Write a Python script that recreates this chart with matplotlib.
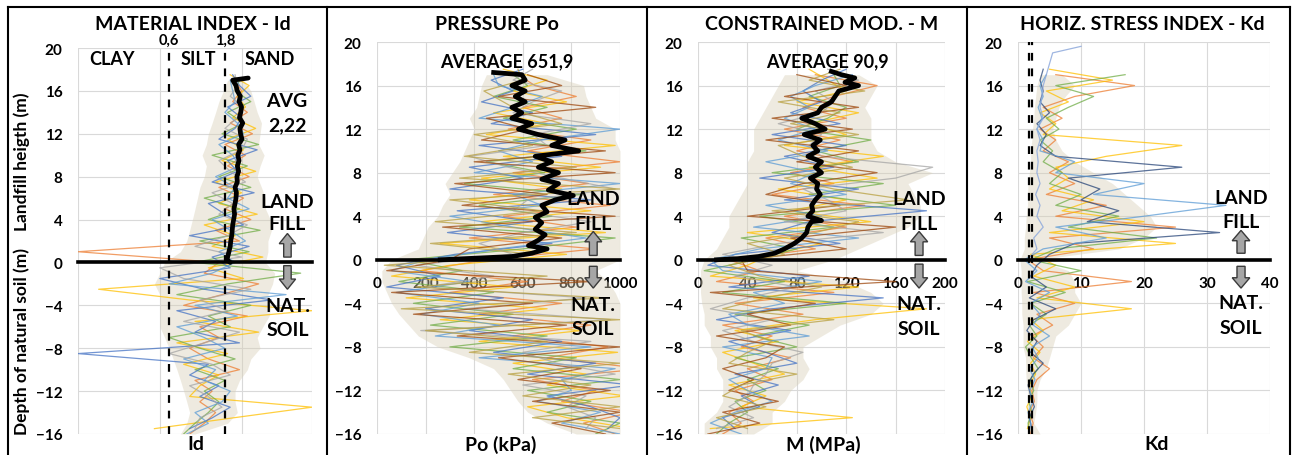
import matplotlib
matplotlib.use('Agg')
import matplotlib.pyplot as plt
from matplotlib.patches import FancyArrow
from matplotlib.lines import Line2D
from matplotlib.ticker import NullLocator

plt.rcParams['font.family'] = ['Lato', 'DejaVu Sans']
plt.rcParams['font.weight'] = 'bold'

# profondità comuni (m): griglia intera e griglia sfalsata di mezzo metro
depth_a = [-16, -15, -14, -13, -12, -11, -10, -9, -8, -7, -6, -5, -4, -3, -2, -1, 0,
           1, 2, 3, 4, 5, 6, 7, 8, 9, 10, 11, 12, 13, 14, 15, 16, 17]
depth_b = [-15.5, -14.5, -13.5, -12.5, -11.5, -10.5, -9.5, -8.5, -7.5, -6.5, -5.5, -4.5,
           -3.5, -2.5, -1.5, -0.5, 0.5, 1.5, 2.5, 3.5, 4.5, 5.5, 6.5, 7.5, 8.5, 9.5, 10.5,
           11.5, 12.5, 13.5, 14.5, 15.5, 16.5, 17.5]

# ---- Id (material index)
id_lo = [0.75, 0.85, 0.9, 0.85, 0.8, 0.75, 0.7, 0.65, 0.6, 0.55, 0.5, 0.5, 0.5, 0.5, 0.45, 0.5, 0.55,
         0.75, 0.85, 0.9, 0.95, 1.0, 1.05, 1.1, 1.2, 1.25, 1.15, 1.25, 1.3, 1.4, 1.5, 1.6, 1.75, 1.9]
id_hi = [1.0, 1.9, 2.3, 2.2, 2.2, 2.4, 2.8, 3.0, 3.6, 3.4, 3.8, 4.3, 4.5, 4.2, 4.6, 4.8, 4.0,
         4.2, 4.2, 4.5, 4.4, 4.0, 4.0, 3.7, 3.4, 3.6, 3.9, 3.5, 3.6, 3.7, 3.4, 3.2, 3.0, 2.6]
id_p1 = [0.9, 1.2, 1.5, 1.1, 1.4, 1.0, 2.4, 1.3, 0.9, 1.6, 1.1, 2.8, 0.8, 1.7, 3.5, 1.2, 1.6,
         0.1, 2.4, 1.5, 3.0, 1.8, 2.6, 1.6, 2.9, 1.9, 2.7, 1.8, 3.1, 2.0, 2.8, 2.1, 2.5, 2.2]
id_p2 = [0.45, 2.1, 10.0, 0.9, 1.1, 1.6, 0.8, 1.9, 0.7, 3.5, 1.0, 10.0, 0.9, 0.15, 2.6, 1.3, 3.8,
         1.4, 2.2, 1.2, 3.4, 1.6, 2.5, 1.5, 3.3, 1.7, 2.6, 1.9, 3.3, 2.1, 2.7, 2.3, 2.9, 2.0]
id_p3 = [0.8, 1.0, 1.3, 1.6, 1.2, 1.8, 1.0, 2.2, 1.1, 0.6, 2.0, 1.3, 3.0, 0.7, 1.9, 8.0, 1.0,
         2.9, 1.1, 3.6, 1.3, 2.4, 1.2, 3.0, 1.6, 2.8, 1.4, 3.5, 1.7, 2.6, 1.9, 3.0, 2.2, 2.4]
id_p4 = [0.9, 1.4, 2.0, 1.1, 1.6, 0.9, 1.3, 0.1, 2.4, 1.0, 1.5, 0.7, 4.5, 1.2, 0.5, 2.0, 1.4,
         2.9, 0.9, 2.6, 1.8, 1.3, 3.2, 1.4, 2.3, 1.9, 3.4, 1.6, 2.2, 2.5, 1.9, 3.0, 2.4, 2.1]
id_p5 = [0.85, 1.3, 1.0, 1.7, 2.0, 1.2, 1.5, 0.8, 1.8, 1.2, 0.7, 2.3, 1.0, 6.0, 0.6, 1.4, 2.2,
         1.6, 2.7, 2.0, 1.4, 2.9, 1.9, 2.2, 1.5, 2.4, 2.1, 1.6, 2.6, 2.3, 1.8, 2.2, 2.1, 2.0]
id_p6 = [1.0, 1.1, 1.7, 1.3, 0.9, 2.0, 1.4, 0.6, 1.2, 2.4, 0.8, 1.9, 1.1, 3.0, 0.8, 0.5, 2.5,
         1.0, 1.9, 2.8, 1.6, 2.1, 1.4, 2.7, 2.0, 1.6, 2.5, 2.8, 1.8, 2.3, 2.6, 2.0, 2.3, 2.2]
id_avg_depth = [0.0, 0.3, 0.5, 1, 1.5, 2, 2.5, 3, 3.5, 4, 4.5, 5, 5.5, 6, 6.5, 7, 7.5, 8, 8.5, 9,
                9.5, 10, 10.5, 11, 11.5, 12, 12.5, 13, 13.5, 14, 14.5, 15, 15.5, 16, 16.5, 17, 17.2]
id_avg = [2.0, 1.85, 1.9, 1.95, 2.0, 2.02, 2.06, 2.08, 2.1, 2.14, 2.18, 2.15, 2.2, 2.24, 2.26, 2.2,
          2.3, 2.28, 2.36, 2.3, 2.38, 2.32, 2.42, 2.36, 2.52, 2.45, 2.42, 2.56, 2.4, 2.46, 2.5,
          2.38, 2.44, 2.3, 2.24, 2.1, 2.85]
id_limits = [0.6, 1.8]

# ---- Po (kPa)
po_lo = [820, 700, 620, 580, 550, 520, 480, 380, 250, 170, 130, 90, 60, 40, 20, 20, 60,
         170, 190, 210, 250, 270, 300, 280, 310, 340, 360, 380, 400, 380, 410, 420, 430, 450]
po_hi = [1000, 1000, 1000, 1000, 1000, 1000, 1000, 1000, 1000, 1000, 1000, 1000, 1000, 980, 950, 900, 1000,
         1000, 1000, 1000, 1000, 1000, 1000, 1000, 1000, 1000, 1000, 980, 980, 900, 880, 860, 850, 700]
po_p1 = [980, 850, 1050, 760, 900, 640, 1100, 700, 950, 560, 880, 420, 760, 300, 620, 180, 450,
         900, 380, 820, 520, 960, 480, 870, 560, 1000, 620, 880, 540, 760, 600, 820, 650, 580]
po_p2 = [1050, 780, 620, 1020, 700, 860, 560, 990, 420, 840, 260, 700, 120, 560, 60, 300, 780,
         260, 940, 430, 880, 380, 760, 430, 920, 520, 980, 450, 700, 480, 780, 560, 700, 520]
po_p3 = [900, 1000, 700, 880, 620, 1000, 560, 820, 300, 700, 220, 560, 150, 480, 90, 350, 120,
         600, 980, 340, 720, 420, 840, 360, 690, 450, 860, 560, 820, 520, 700, 480, 620, 560]
po_p4 = [950, 1000, 880, 700, 1050, 620, 900, 480, 760, 380, 640, 200, 520, 40, 260, 80, 320,
         720, 290, 640, 330, 880, 300, 600, 380, 760, 420, 900, 470, 640, 430, 560, 470, 600]
po_p5 = [1000, 760, 920, 660, 800, 760, 980, 420, 880, 240, 500, 180, 420, 80, 380, 60, 200,
         500, 860, 560, 300, 680, 560, 1000, 400, 640, 500, 680, 1000, 420, 560, 680, 500, 480]
po_p6 = [860, 900, 780, 860, 600, 980, 740, 600, 880, 180, 960, 360, 860, 200, 480, 160, 560,
         420, 600, 880, 560, 620, 980, 760, 540, 380, 700, 640, 880, 560, 640, 760, 560, 640]
po_p7 = [940, 720, 1000, 640, 960, 580, 840, 500, 1000, 330, 780, 150, 640, 60, 880, 40, 300,
         380, 760, 270, 980, 350, 700, 320, 980, 400, 940, 430, 620, 450, 900, 500, 760, 620]
po_p8 = [1000, 640, 1000, 600, 880, 540, 1000, 380, 700, 200, 1000, 100, 940, 160, 700, 30, 640,
         220, 820, 240, 680, 300, 1000, 340, 820, 360, 640, 400, 760, 600, 520, 440, 600, 580]
po_avg_depth = [0.0, 0.3, 0.6, 1.0, 1.3, 1.8, 2.3, 2.8, 3.4, 3.9, 4.4, 5.0, 5.5, 5.9, 6.4, 7.0,
                7.4, 8.0, 8.5, 9.0, 9.5, 10.0, 10.5, 11.0, 11.5, 12.0, 12.5, 13.0, 13.5, 14.0,
                14.5, 15.0, 15.5, 16.0, 16.5, 17.0, 17.2]
po_avg = [260, 555, 637, 700, 623, 664, 692, 651, 678, 651, 700, 678, 733, 808, 705, 747, 678,
          747, 664, 719, 651, 830, 719, 774, 664, 582, 637, 555, 596, 555, 610, 569, 610, 555,
          610, 596, 480]

# ---- M (MPa)
m_lo = [5, 5, 15, 20, 20, 20, 15, 15, 10, 10, 5, 5, 3, 2, 2, 2, 5,
        15, 20, 25, 25, 30, 35, 40, 40, 40, 45, 45, 45, 50, 55, 60, 65, 70]
m_hi = [45, 60, 60, 70, 75, 85, 90, 85, 85, 100, 115, 140, 150, 140, 120, 80, 110,
        130, 150, 170, 180, 180, 175, 170, 190, 160, 145, 140, 140, 140, 135, 140, 145, 130]
m_p1 = [20, 35, 25, 45, 30, 60, 40, 75, 35, 60, 20, 85, 30, 110, 15, 50, 25,
        95, 55, 120, 70, 135, 60, 110, 75, 125, 80, 115, 70, 120, 85, 110, 145, 95]
m_p2 = [10, 125, 35, 55, 25, 70, 45, 20, 65, 30, 95, 185, 45, 130, 10, 40, 60,
        100, 40, 140, 75, 120, 65, 145, 90, 150, 70, 120, 90, 130, 80, 120, 105, 90]
m_p3 = [15, 25, 40, 30, 55, 40, 65, 30, 80, 45, 90, 30, 120, 20, 70, 5, 45,
        80, 35, 110, 50, 160, 90, 150, 60, 130, 95, 140, 80, 105, 120, 90, 115, 110]
m_p4 = [30, 20, 50, 35, 65, 30, 80, 55, 25, 75, 15, 60, 150, 25, 90, 8, 30,
        115, 60, 90, 185, 70, 130, 50, 110, 70, 120, 60, 115, 75, 100, 85, 100, 120]
m_p5 = [35, 10, 30, 60, 40, 25, 55, 60, 20, 90, 40, 25, 70, 45, 100, 20, 10,
        50, 130, 45, 100, 55, 120, 75, 95, 55, 105, 65, 95, 70, 90, 75, 95, 125]
m_p6 = [15, 45, 25, 40, 45, 55, 60, 85, 45, 20, 60, 10, 40, 80, 30, 60, 20,
        65, 150, 70, 120, 105, 85, 160, 190, 100, 90, 100, 65, 100, 110, 95, 130, 105]
m_p7 = [8, 50, 20, 65, 25, 45, 20, 55, 70, 15, 75, 40, 95, 10, 160, 40, 35,
        120, 75, 160, 40, 115, 55, 85, 145, 80, 130, 55, 125, 60, 130, 70, 120, 80]
m_p8 = [40, 15, 55, 20, 35, 80, 25, 40, 60, 35, 110, 20, 55, 100, 50, 25, 70,
        40, 95, 130, 60, 170, 110, 70, 125, 85, 65, 130, 75, 115, 65, 135, 90, 115]
m_avg_depth = [0.0, 0.1, 0.3, 0.6, 1.0, 1.5, 2.0, 2.5, 3.0, 3.5, 3.6, 4.0, 4.5, 5.0, 5.5, 6.0,
               6.5, 7.0, 7.5, 8.0, 8.5, 9.0, 9.5, 10.0, 10.5, 11.0, 11.5, 12.0, 12.5, 13.0,
               13.5, 14.0, 14.5, 15.0, 15.5, 16.0, 16.3, 16.7, 17.0, 17.3]
m_avg = [15, 32, 49, 62, 70, 78, 84, 88, 89, 92, 100, 89, 93, 92, 95, 99, 96, 97, 91, 100,
         95, 100, 89, 97, 93, 99, 86, 103, 95, 84, 97, 100, 108, 111, 114, 130, 119, 127, 116, 108]

# ---- Kd
kd_lo = [1.5, 1.5, 1.5, 1.5, 1.5, 1.3, 1.2, 1.2, 0.8, 0.8, 0.8, 0.6, 0.6, 0.5, 0.5, 0.5, 0.3,
         1.0, 1.0, 1.2, 1.3, 1.5, 1.5, 1.6, 1.8, 2.0, 2.0, 2.2, 2.3, 2.5, 2.6, 2.8, 3.0, 3.5]
kd_hi = [3.5, 2.5, 2.8, 3.0, 3.0, 3.5, 4.5, 5.0, 5.5, 6.0, 8.0, 9.0, 10.0, 9.0, 9.0, 8.0, 3.0,
         16.0, 20.0, 22.0, 21.0, 19.0, 17.0, 15.0, 12.0, 9.0, 7.0, 6.0, 5.5, 6.0, 6.5, 7.5, 9.0, 7.0]
kd_p1 = [2.0, 2.4, 1.8, 2.6, 2.2, 3.0, 5.0, 2.4, 4.0, 2.2, 5.5, 3.0, 9.0, 2.5, 18.0, 4.0, 1.5,
         12.0, 5.0, 25.0, 6.0, 14.0, 4.5, 9.0, 5.0, 8.0, 4.0, 6.0, 3.5, 7.0, 4.0, 9.0, 18.5, 6.0]
kd_p2 = [1.5, 2.0, 1.4, 2.2, 1.8, 2.8, 2.0, 3.5, 1.5, 4.0, 2.0, 18.0, 3.0, 9.0, 2.5, 6.0, 2.0,
         25.0, 5.0, 20.0, 7.0, 12.0, 5.0, 8.0, 6.0, 14.0, 26.0, 4.0, 6.0, 3.5, 8.0, 4.5, 15.0, 5.0]
kd_p3 = [1.8, 1.6, 2.2, 1.7, 2.5, 1.9, 3.2, 2.1, 1.2, 3.0, 1.8, 4.5, 2.0, 7.5, 1.5, 10.0, 2.0,
         6.0, 22.0, 8.0, 16.0, 6.0, 10.0, 5.0, 7.0, 4.0, 5.5, 3.5, 6.5, 4.5, 8.0, 12.0, 6.0, 17.0]
kd_p4 = [2.2, 1.8, 2.6, 2.0, 1.6, 2.4, 4.0, 2.0, 3.0, 1.4, 2.5, 6.0, 1.8, 4.5, 2.0, 3.0, 5.0,
         9.0, 32.0, 11.0, 16.0, 10.0, 13.0, 8.0, 26.0, 6.0, 3.5, 4.5, 3.0, 5.0, 3.5, 4.0, 3.5, 4.0]
kd_p5 = [1.7, 2.0, 1.6, 2.4, 1.9, 2.7, 1.8, 3.2, 2.2, 5.0, 2.4, 3.5, 2.0, 5.0, 1.2, 3.0, 1.0,
         4.0, 14.0, 6.0, 20.0, 33.0, 12.0, 20.0, 6.0, 9.0, 3.5, 4.0, 3.0, 3.8, 3.2, 4.0, 3.5, 4.5]
kd_top_depth = [0, 1, 2, 3, 4, 5, 6, 7, 8, 9, 10, 11, 12, 13, 14, 15, 16, 17, 18, 19, 19.6]
kd_top = [1.5, 3.0, 2.5, 4.0, 3.0, 3.5, 2.8, 3.5, 3.0, 3.2, 3.0, 3.5, 3.0, 4.0, 3.5, 3.8, 4.0,
          4.5, 5.0, 5.5, 10.0]
kd_limits = [1.8, 2.3]

line_colors = ['#ED7D31', '#FFC000', '#70AD47', '#4472C4', '#5B9BD5', '#A5A5A5', '#9E480E', '#B8A040']
W, H = 1293, 456

fig = plt.figure(figsize=(W / 100, H / 100), dpi=100)


def px_axes(x0, x1, y0, y1):
    return fig.add_axes([x0 / W, 1 - y1 / H, (x1 - x0) / W, (y1 - y0) / H])


def setup(ax, xlim, xticks, show_xlabels=True):
    ax.set_ylim(-16, 20)
    ax.set_xlim(*xlim)
    ax.set_yticks([-16, -12, -8, -4, 0, 4, 8, 12, 16, 20])
    ax.set_xticks(xticks)
    ax.xaxis.set_minor_locator(NullLocator())
    ax.grid(True, color='#d9d9d9', lw=0.8)
    ax.set_axisbelow(True)
    for s in ['top', 'right', 'left']:
        ax.spines[s].set_visible(False)
    ax.spines['bottom'].set_position(('data', 0))
    ax.spines['bottom'].set_linewidth(2.6)
    ax.spines['bottom'].set_zorder(4)
    ax.tick_params(axis='y', length=0, pad=11, labelsize=11)
    ax.tick_params(axis='x', length=0, pad=11.5, labelsize=11)
    if not show_xlabels:
        ax.set_xticklabels([])


def cloud(ax, lo, hi, profiles):
    ax.fill_betweenx(depth_a, lo, hi, color='#d8cfb6', alpha=0.42, lw=0, zorder=1)
    for i, (dep, vals) in enumerate(profiles):
        ax.plot(vals, dep, color=line_colors[i % len(line_colors)], lw=0.9, alpha=0.75, zorder=2)


def land_nat(ax, xf, y_land, y_fill, y_nat, y_soil, up, down):
    tr = ax.get_yaxis_transform()
    kw = dict(transform=tr, ha='center', va='center', fontsize=14, fontweight='bold', zorder=6)
    ax.text(xf, y_land, 'LAND', **kw)
    ax.text(xf, y_fill, 'FILL', **kw)
    ax.text(xf, y_nat, 'NAT.', **kw)
    ax.text(xf, y_soil, 'SOIL', **kw)
    for (y0, y1) in [up, down]:
        ax.add_patch(FancyArrow(xf, y0, 0, y1 - y0, width=0.032, head_width=0.07, head_length=0.95,
                                length_includes_head=True, transform=tr, facecolor='#a6a6a6',
                                edgecolor='#3a3a3a', lw=1.0, zorder=6, clip_on=False))


# ---------- panel 1: Id
ax1 = px_axes(78, 312, 49, 435)
ax1.set_xscale('log')
setup(ax1, (0.1, 10), [0.1, 0.5, 2.5, 10], show_xlabels=False)
cloud(ax1, id_lo, id_hi, [(depth_a, id_p1), (depth_b, id_p2), (depth_a, id_p3),
                          (depth_b, id_p4), (depth_a, id_p5), (depth_b, id_p6)])
for v in id_limits:
    ax1.axvline(v, color='black', lw=1.6, ls=(0, (3.5, 3.5)), zorder=5)
    ax1.text(v, 20.15, str(v).replace('.', ','), ha='center', va='bottom', fontsize=10.5,
             fontweight='bold')
ax1.plot(id_avg, id_avg_depth, color='black', lw=3.4, zorder=5, solid_capstyle='round')
tr1 = ax1.get_yaxis_transform()
for txt, xf in [('CLAY', 0.145), ('SILT', 0.513), ('SAND', 0.82)]:
    ax1.text(xf, 19.0, txt, transform=tr1, ha='center', va='center', fontsize=13, fontweight='bold')
ax1.text(0.893, 15.1, 'AVG', transform=tr1, ha='center', va='center', fontsize=14, fontweight='bold', zorder=6)
ax1.text(0.893, 12.8, '2,22', transform=tr1, ha='center', va='center', fontsize=14, fontweight='bold', zorder=6)
land_nat(ax1, 0.895, 5.7, 3.6, -4.0, -6.3, (0.5, 2.7), (-0.3, -2.5))

# ---------- panel 2: Po
ax2 = px_axes(377, 620, 43, 435)
setup(ax2, (0, 1000), [0, 200, 400, 600, 800, 1000])
cloud(ax2, po_lo, po_hi, [(depth_a, po_p1), (depth_b, po_p2), (depth_a, po_p3), (depth_b, po_p4),
                          (depth_a, po_p5), (depth_b, po_p6), (depth_a, po_p7), (depth_b, po_p8)])
ax2.plot(po_avg, po_avg_depth, color='black', lw=3.4, zorder=5)
ax2.text(0.535, 18.3, 'AVERAGE 651,9', transform=ax2.get_yaxis_transform(), ha='center', va='center',
         fontsize=13, fontweight='bold', zorder=6)
land_nat(ax2, 0.89, 5.6, 3.3, -4.1, -6.3, (0.4, 2.6), (-0.6, -2.6))

# ---------- panel 3: M
ax3 = px_axes(698, 945, 43, 435)
setup(ax3, (0, 200), [0, 40, 80, 120, 160, 200])
cloud(ax3, m_lo, m_hi, [(depth_a, m_p1), (depth_b, m_p2), (depth_a, m_p3), (depth_b, m_p4),
                        (depth_a, m_p5), (depth_b, m_p6), (depth_a, m_p7), (depth_b, m_p8)])
ax3.plot(m_avg, m_avg_depth, color='black', lw=3.4, zorder=5)
ax3.text(0.522, 18.3, 'AVERAGE 90,9', transform=ax3.get_yaxis_transform(), ha='center', va='center',
         fontsize=13, fontweight='bold', zorder=6)
land_nat(ax3, 0.895, 5.6, 3.3, -4.0, -6.3, (0.4, 2.6), (-0.4, -2.6))

# ---------- panel 4: Kd
ax4 = px_axes(1018, 1270, 43, 435)
setup(ax4, (0, 40), [0, 10, 20, 30, 40])
cloud(ax4, kd_lo, kd_hi, [(depth_a, kd_p1), (depth_b, kd_p2), (depth_a, kd_p3),
                          (depth_b, kd_p4), (depth_a, kd_p5)])
ax4.lines[3].set_color('#264478')
ax4.plot(kd_top, kd_top_depth, color='#8FAADC', lw=0.9, alpha=0.85, zorder=2)
for v in kd_limits:
    ax4.axvline(v, color='black', lw=1.6, ls=(0, (3.5, 3.5)), zorder=5)
land_nat(ax4, 0.885, 5.7, 3.5, -3.9, -6.2, (0.6, 2.7), (-0.6, -2.6))

# ---------- titles, axis labels, frame
for txt, xc in [('MATERIAL INDEX - Id', 193), ('PRESSURE Po', 497),
                ('CONSTRAINED MOD. - M', 822), ('HORIZ. STRESS INDEX - Kd', 1142)]:
    fig.text(xc / W, 1 - 25 / H, txt, ha='center', va='center', fontsize=14, fontweight='bold')
for txt, xc in [('Id', 196), ('Po (kPa)', 501), ('M (MPa)', 823), ('Kd', 1157)]:
    fig.text(xc / W, 1 - 445 / H, txt, ha='center', va='center', fontsize=14, fontweight='bold')
fig.text(22 / W, 1 - 162 / H, 'Landfill heigth (m)', rotation=90, ha='center', va='center',
         fontsize=12.5, fontweight='bold')
fig.text(22 / W, 1 - 342 / H, 'Depth of natural soil (m)', rotation=90, ha='center', va='center',
         fontsize=12.5, fontweight='bold')

fig.add_artist(Line2D([8 / W, 1290 / W], [1 - 8 / H, 1 - 8 / H], transform=fig.transFigure,
                      color='black', lw=1.5))
for xb in [8, 327, 647, 967, 1290]:
    fig.add_artist(Line2D([xb / W, xb / W], [0, 1 - 8 / H], transform=fig.transFigure,
                          color='black', lw=1.5))

fig.savefig('out.png', dpi=100)
